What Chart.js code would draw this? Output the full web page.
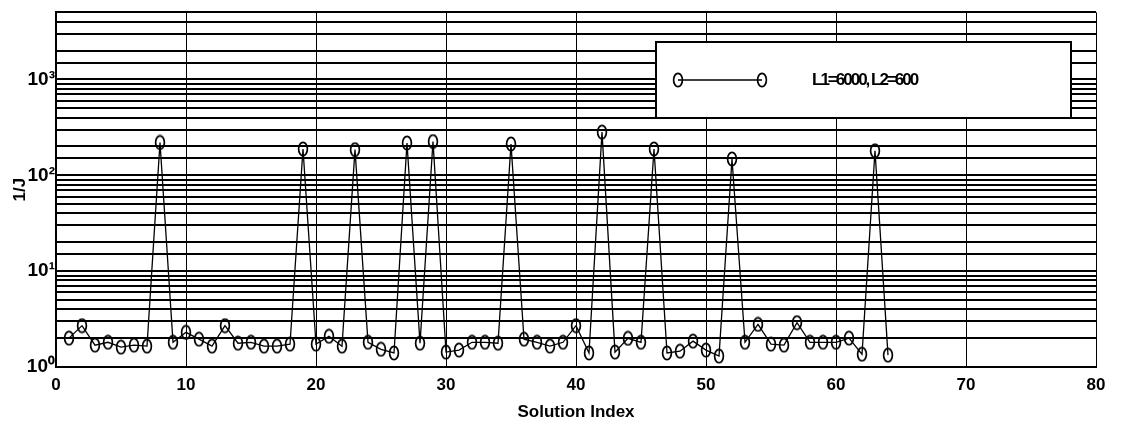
<!DOCTYPE html>
<html>
<head>
<meta charset="utf-8">
<script src="https://cdn.jsdelivr.net/npm/chart.js@4.4.1/dist/chart.umd.min.js"></script>
<style>
  html, body { margin: 0; padding: 0; background: #fff; }
</style>
</head>
<body>
<canvas id="chart" width="1122" height="428"></canvas>
<script>
// solution index vs 1/J, one run (L1=6000, L2=600)
const solutionIndex = [
  1, 2, 3, 4, 5, 6, 7, 8, 9, 10, 11, 12, 13, 14, 15, 16,
  17, 18, 19, 20, 21, 22, 23, 24, 25, 26, 27, 28, 29, 30, 31, 32,
  33, 34, 35, 36, 37, 38, 39, 40, 41, 42, 43, 44, 45, 46, 47, 48,
  49, 50, 51, 52, 53, 54, 55, 56, 57, 58, 59, 60, 61, 62, 63, 64
];
const invJ = [
  2.0, 2.7, 1.69, 1.81, 1.61, 1.69, 1.65, 220, 1.81, 2.3, 1.95, 1.65, 2.7, 1.77, 1.81, 1.65,
  1.65, 1.73, 188, 1.73, 2.09, 1.65, 185, 1.81, 1.53, 1.4, 217, 1.77, 225, 1.43, 1.5, 1.81,
  1.81, 1.77, 212, 1.95, 1.81, 1.65, 1.81, 2.7, 1.4, 282, 1.43, 1.99, 1.81, 188, 1.4, 1.46,
  1.86, 1.5, 1.3, 148, 1.81, 2.78, 1.73, 1.69, 2.9, 1.81, 1.81, 1.81, 2.0, 1.36, 180, 1.33
];
const seriesLabel = "L1=6000, L2=600";
const xMin = 0, xMax = 80, xStep = 10;
const yMin = 1, yMax = 5000;
const decadeLabels = { 1: "10\u2070", 10: "10\u00b9", 100: "10\u00b2", 1000: "10\u00b3" };

const FONT = "'Liberation Sans Narrow', 'Liberation Sans', Arial, sans-serif";

// hollow ellipse marker
const makeMarker = () => {
  const c = document.createElement("canvas");
  c.width = 12;
  c.height = 16;
  const m = c.getContext("2d");
  m.strokeStyle = "#000";
  m.lineWidth = 1.7;
  m.beginPath();
  m.ellipse(6, 8, 4.4, 6.6, 0, 0, 2 * Math.PI);
  m.stroke();
  return c;
};
const marker = makeMarker();

// tight letter spacing for all text
const narrowText = {
  id: "narrowText",
  beforeInit(chart) {
    chart.ctx.letterSpacing = "-1px";
  },
};

// boxed legend in the upper right of the plot
const legendBox = {
  id: "legendBox",
  afterDatasetsDraw(chart, args, opts) {
    const ctx = chart.ctx;
    const { left, top, width, height } = opts;
    ctx.save();
    ctx.fillStyle = "#fff";
    ctx.fillRect(left, top, width, height);
    ctx.strokeStyle = "#000";
    ctx.lineWidth = 2;
    ctx.strokeRect(left, top, width, height);
    const cy = top + height / 2;
    ctx.lineWidth = 1.3;
    ctx.beginPath();
    ctx.moveTo(left + 22, cy);
    ctx.lineTo(left + 106, cy);
    ctx.stroke();
    ctx.drawImage(marker, left + 22 - 6, cy - 8);
    ctx.drawImage(marker, left + 106 - 6, cy - 8);
    ctx.fillStyle = "#000";
    ctx.font = "bold 17px " + FONT;
    ctx.letterSpacing = "-2px";
    ctx.textBaseline = "middle";
    ctx.textAlign = "left";
    ctx.fillText(chart.data.datasets[0].label, left + 156, cy);
    ctx.restore();
  },
};

Chart.defaults.font.family = FONT;
Chart.defaults.font.size = 17;
Chart.defaults.font.weight = "bold";
Chart.defaults.color = "#000";

new Chart(document.getElementById("chart"), {
  type: "line",
  data: {
    datasets: [
      {
        label: seriesLabel,
        data: solutionIndex.map((x, i) => ({ x: x, y: invJ[i] })),
        borderColor: "#000",
        borderWidth: 1.3,
        pointStyle: marker,
        pointRadius: 6,
        tension: 0,
        fill: false,
      },
    ],
  },
  options: {
    responsive: false,
    animation: false,
    devicePixelRatio: 1,
    layout: { padding: { top: 9, right: 26, left: 0, bottom: 0 } },
    plugins: {
      legend: { display: false },
      tooltip: { enabled: false },
      legendBox: { left: 656, top: 42, width: 415, height: 76 },
    },
    scales: {
      x: {
        type: "linear",
        min: xMin,
        max: xMax,
        ticks: { stepSize: xStep, padding: 8, maxRotation: 0 },
        grid: { color: "#000", lineWidth: 1, drawTicks: false },
        border: { color: "#000", width: 2 },
        title: { display: true, text: "Solution Index", padding: { top: 0, bottom: 5 } },
        afterFit: (s) => { s.height = 61; },
      },
      y: {
        type: "logarithmic",
        min: yMin,
        max: yMax,
        ticks: {
          autoSkip: false,
          padding: 1,
          font: { size: 19 },
          callback: (v) => decadeLabels[v] || "",
        },
        grid: { color: "#000", lineWidth: 2, drawTicks: false },
        border: { color: "#000", width: 2 },
        title: { display: true, text: "1/J", padding: { top: 10, bottom: 0 } },
        afterFit: (s) => { s.width = 56; },
      },
    },
  },
  plugins: [narrowText, legendBox],
});
</script>
</body>
</html>
